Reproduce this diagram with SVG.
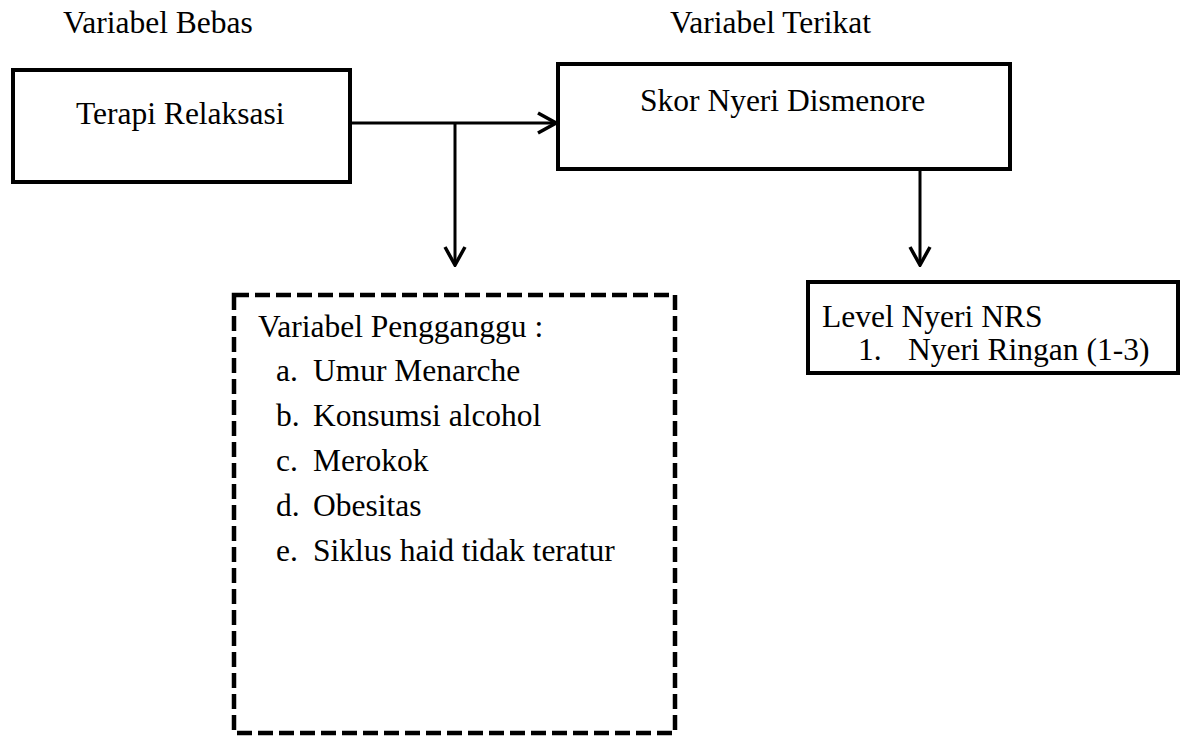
<svg xmlns="http://www.w3.org/2000/svg" width="1191" height="739" viewBox="0 0 1191 739">
<style>
text{font-family:"Liberation Serif","Times New Roman",serif;font-size:31.5px;fill:#000}
.box{fill:#fff;stroke:#000;stroke-width:4}
.dash{fill:none;stroke:#000;stroke-width:4.5;stroke-dasharray:15 6}
.conn{fill:none;stroke:#000;stroke-width:3}
</style>
<defs>
<marker id="arr" viewBox="-21 -12 23 24" refX="0" refY="0" markerWidth="23" markerHeight="24" markerUnits="userSpaceOnUse" orient="auto">
<path d="M-18,-10 L0,0 L-18,10" fill="none" stroke="#000" stroke-width="3.5" stroke-linejoin="miter"/>
</marker>
</defs>
<rect width="1191" height="739" fill="#fff"/>
<text x="63" y="33">Variabel Bebas</text>
<text x="670" y="33">Variabel Terikat</text>
<g id="connectors">
<line class="conn" x1="350" y1="123" x2="556" y2="123" marker-end="url(#arr)"/>
<line class="conn" x1="455" y1="123" x2="455" y2="265" marker-end="url(#arr)"/>
<line class="conn" x1="920" y1="170" x2="920" y2="265" marker-end="url(#arr)"/>
</g>
<g id="terapi">
<rect class="box" x="13" y="70" width="337" height="112"/>
<text x="76" y="124">Terapi Relaksasi</text>
</g>
<g id="skor">
<rect class="box" x="558" y="64" width="452" height="105"/>
<text x="640" y="111">Skor Nyeri Dismenore</text>
</g>
<g id="level">
<rect class="box" x="808" y="282" width="370" height="91"/>
<text x="822" y="327">Level Nyeri NRS</text>
<text x="858" y="360">1.</text>
<text x="908" y="360">Nyeri Ringan (1-3)</text>
</g>
<g id="pengganggu">
<rect class="dash" x="234" y="295" width="441" height="438"/>
<text x="258" y="337">Variabel Pengganggu :</text>
<text x="276" y="381">a.</text><text x="313" y="381">Umur Menarche</text>
<text x="276" y="426">b.</text><text x="313" y="426">Konsumsi alcohol</text>
<text x="276" y="471">c.</text><text x="313" y="471">Merokok</text>
<text x="276" y="516">d.</text><text x="313" y="516">Obesitas</text>
<text x="276" y="561">e.</text><text x="313" y="561">Siklus haid tidak teratur</text>
</g>
</svg>
